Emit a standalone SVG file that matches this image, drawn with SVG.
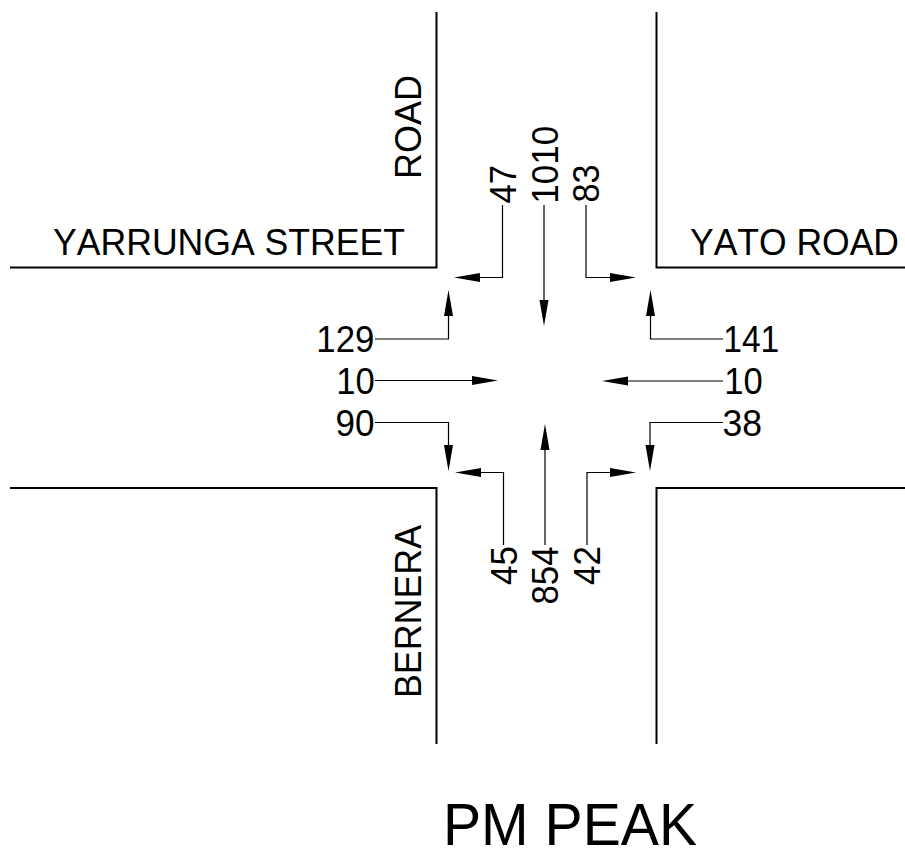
<svg xmlns="http://www.w3.org/2000/svg" width="905" height="850" viewBox="0 0 905 850">
<defs>
<style>
.road{fill:none;stroke:#000;stroke-width:2}
.lead{fill:none;stroke:#000;stroke-width:1.2}
.head{fill:#000;stroke:none}
text{font-family:"Liberation Sans",Arial,sans-serif;fill:#000;font-size:37.500px;font-kerning:none}
.num{font-size:36px}
.title{font-size:60px}
</style>
</defs>
<rect width="905" height="850" fill="#fff"/>
<g id="roads">
<path class="road" d="M436.500 12V267.500H10"/>
<path class="road" d="M656.500 12V267.500H905"/>
<path class="road" d="M10 488H436.500V744"/>
<path class="road" d="M905 488H656.500V744"/>
</g>
<g id="connectors">
<path class="lead" d="M502.500 205V277.500H480"/><polygon class="head" points="454,277.500 480,273 480,282"/>
<path class="lead" d="M544 205V302"/><polygon class="head" points="544,326 539.500,300 548.500,300"/>
<path class="lead" d="M586 205V277.500H610"/><polygon class="head" points="636,277.500 610,273 610,282"/>
<path class="lead" d="M375 339H448.500V316"/><polygon class="head" points="448.500,290 444,316 453,316"/>
<path class="lead" d="M375 380.500H472"/><polygon class="head" points="498,380.500 472,376 472,385"/>
<path class="lead" d="M375 422.500H448.500V446"/><polygon class="head" points="448.500,471 444,445 453,445"/>
<path class="lead" d="M723 339H650.500V316"/><polygon class="head" points="650.500,290 646,316 655,316"/>
<path class="lead" d="M723 381H628"/><polygon class="head" points="602,381 628,376.500 628,385.500"/>
<path class="lead" d="M723 422.500H650V446"/><polygon class="head" points="650,471 645.500,445 654.500,445"/>
<path class="lead" d="M503.500 545V472.500H480"/><polygon class="head" points="455,472.500 481,468 481,477"/>
<path class="lead" d="M545 545V448"/><polygon class="head" points="545,424 540.500,450 549.500,450"/>
<path class="lead" d="M587 545V472.500H610"/><polygon class="head" points="636,472.500 610,468 610,477"/>
</g>
<g id="labels">
<text x="53" y="255" textLength="352" lengthAdjust="spacingAndGlyphs">YARRUNGA STREET</text>
<text x="690" y="255" textLength="209" lengthAdjust="spacingAndGlyphs">YATO ROAD</text>
<text transform="translate(421,179) rotate(-90)" textLength="104" lengthAdjust="spacingAndGlyphs">ROAD</text>
<text transform="translate(421,698) rotate(-90)" textLength="173" lengthAdjust="spacingAndGlyphs">BERNERA</text>
<text class="num" transform="translate(516,203.500) rotate(-90)" textLength="38.500" lengthAdjust="spacingAndGlyphs">47</text>
<text class="num" transform="translate(558,203.700) rotate(-90)" textLength="78" lengthAdjust="spacingAndGlyphs">1010</text>
<text class="num" transform="translate(599,202.500) rotate(-90)" textLength="38" lengthAdjust="spacingAndGlyphs">83</text>
<text class="num" x="316.300" y="352" textLength="58" lengthAdjust="spacingAndGlyphs">129</text>
<text class="num" x="336.300" y="393.500" textLength="38.500" lengthAdjust="spacingAndGlyphs">10</text>
<text class="num" x="335.500" y="435.500" textLength="39" lengthAdjust="spacingAndGlyphs">90</text>
<text class="num" x="723.300" y="352" textLength="56" lengthAdjust="spacingAndGlyphs">141</text>
<text class="num" x="724.300" y="393.500" textLength="38.500" lengthAdjust="spacingAndGlyphs">10</text>
<text class="num" x="722.600" y="435.500" textLength="39.500" lengthAdjust="spacingAndGlyphs">38</text>
<text class="num" transform="translate(517,585) rotate(-90)" textLength="39" lengthAdjust="spacingAndGlyphs">45</text>
<text class="num" transform="translate(558,604.500) rotate(-90)" textLength="58" lengthAdjust="spacingAndGlyphs">854</text>
<text class="num" transform="translate(600,585) rotate(-90)" textLength="39" lengthAdjust="spacingAndGlyphs">42</text>
<text class="title" x="443" y="845" textLength="254" lengthAdjust="spacingAndGlyphs">PM PEAK</text>
</g>
</svg>
